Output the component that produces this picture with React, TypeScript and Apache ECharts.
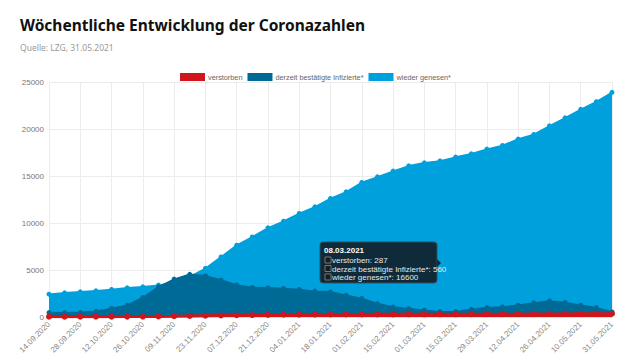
import React, { useEffect, useRef } from "react";
import * as echarts from "echarts";

const categories = [
  "14.09.2020", "21.09.2020", "28.09.2020", "05.10.2020", "12.10.2020", "19.10.2020",
  "26.10.2020", "02.11.2020", "09.11.2020", "16.11.2020", "23.11.2020", "30.11.2020",
  "07.12.2020", "14.12.2020", "21.12.2020", "28.12.2020", "04.01.2021", "11.01.2021",
  "18.01.2021", "25.01.2021", "01.02.2021", "08.02.2021", "15.02.2021", "22.02.2021",
  "01.03.2021", "08.03.2021", "15.03.2021", "22.03.2021", "29.03.2021", "05.04.2021",
  "12.04.2021", "19.04.2021", "26.04.2021", "03.05.2021", "10.05.2021", "17.05.2021",
  "31.05.2021",
];

const verstorben = [
  30, 30, 31, 32, 35, 40, 50, 65, 85, 110, 135, 160, 185, 205, 225, 240, 252, 262,
  268, 273, 277, 280, 282, 284, 286, 287, 289, 292, 296, 300, 305, 312, 320, 330,
  340, 348, 355,
];

const infizierte = [
  470, 450, 500, 610, 900, 1250, 2070, 3210, 4030, 4540, 4390, 3930, 3400, 3140,
  3100, 3030, 2930, 2750, 2680, 2320, 1970, 1430, 1070, 900, 720, 560, 560, 820,
  1000, 1070, 1250, 1500, 1710, 1540, 1250, 1000, 530,
];

const genesen = [
  2430, 2570, 2680, 2780, 2930, 3100, 3210, 3390, 3700, 4300, 5180, 6390, 7640,
  8520, 9480, 10190, 11010, 11720, 12610, 13310, 14310, 14910, 15520, 16080, 16400,
  16600, 17010, 17360, 17860, 18250, 18930, 19420, 20340, 21190, 22090, 22900, 23900,
];

const seriesNames = ["verstorben", "derzeit bestätigte Infizierte*", "wieder genesen*"];
const colors = ["#d0151b", "#006a96", "#00a0dd"];
const tooltipIndex = 25;

export default function App() {
  const ref = useRef<HTMLDivElement>(null);
  useEffect(() => {
    if (!ref.current) return;
    const chart = echarts.init(ref.current, null, { renderer: "svg" });
    const font = "Liberation Sans, Arial, sans-serif";
    const tipLines = [
      `${seriesNames[0]}: ${verstorben[tooltipIndex]}`,
      `${seriesNames[1]}: ${infizierte[tooltipIndex]}`,
      `${seriesNames[2]}: ${genesen[tooltipIndex]}`,
    ];
    const tx = 320;
    const ty = 242;
    const tipGraphics: any[] = [
      {
        type: "rect",
        x: tx,
        y: ty,
        z: 100,
        shape: { x: 0, y: 0, width: 117, height: 41, r: 3 },
        style: { fill: "#0f2b3a", stroke: "#33505f", lineWidth: 1 },
      },
      {
        type: "polygon",
        x: tx,
        y: ty,
        z: 100,
        shape: { points: [[117, 17], [121, 21], [117, 25]] },
        style: { fill: "#0f2b3a" },
      },
      {
        type: "text",
        x: tx + 4,
        y: ty + 4,
        z: 101,
        style: {
          text: categories[tooltipIndex],
          fill: "#ffffff",
          font: `bold 8px ${font}`,
        },
      },
    ];
    tipLines.forEach((t, i) => {
      tipGraphics.push({
        type: "rect",
        x: tx,
        y: ty,
        z: 101,
        shape: { x: 5, y: 15 + i * 8.5, width: 6, height: 6 },
        style: { fill: "#1c1c1c", stroke: "#8a8a8a", lineWidth: 0.8 },
      });
      tipGraphics.push({
        type: "text",
        x: tx + 12,
        y: ty + 14.5 + i * 8.5,
        z: 101,
        style: { text: t, fill: "#e6e6e6", font: `8px ${font}` },
      });
    });
    chart.setOption({
      animation: false,
      backgroundColor: "#ffffff",
      title: {
        text: "Wöchentliche Entwicklung der Coronazahlen",
        subtext: "Quelle: LZG, 31.05.2021",
        left: 15,
        top: 12,
        itemGap: 10,
        textStyle: {
          fontFamily: "Noto Sans, sans-serif",
          fontWeight: "bold",
          fontSize: 15.5,
          color: "#111111",
        },
        subtextStyle: {
          fontFamily: "Noto Sans, sans-serif",
          fontSize: 8.5,
          color: "#9a9a9a",
        },
      },
      legend: {
        data: seriesNames,
        top: 68,
        left: 175,
        itemWidth: 25,
        itemHeight: 8,
        itemGap: 5,
        icon: "rect",
        textStyle: { fontFamily: font, fontSize: 7.3, color: "#666666", padding: [0, 0, 0, -2] },
      },
      grid: { left: 49, right: 28, top: 82, bottom: 47 },
      xAxis: {
        type: "category",
        data: categories,
        boundaryGap: false,
        axisLine: { show: true, lineStyle: { color: "#dddddd" } },
        axisTick: { show: false },
        axisLabel: {
          interval: 1,
          rotate: 45,
          fontFamily: font,
          fontSize: 8,
          color: "#888888",
          margin: 6,
        },
        splitLine: { show: true, interval: 1, lineStyle: { color: "#ececec" } },
      },
      yAxis: {
        type: "value",
        min: 0,
        max: 25000,
        interval: 5000,
        axisLine: { show: false },
        axisTick: { show: false },
        axisLabel: {
          fontFamily: font,
          fontSize: 8,
          color: "#777777",
          margin: 5,
          formatter: (v: number) => String(v),
        },
        splitLine: { lineStyle: { color: "#ececec" } },
      },
      series: [
        {
          name: seriesNames[2],
          type: "line",
          data: genesen,
          color: colors[2],
          symbol: "circle",
          symbolSize: 5,
          lineStyle: { width: 1.5, color: colors[2] },
          itemStyle: { color: colors[2] },
          areaStyle: { color: colors[2], opacity: 1 },
          z: 2,
        },
        {
          name: seriesNames[1],
          type: "line",
          data: infizierte,
          color: colors[1],
          symbol: "circle",
          symbolSize: 5,
          lineStyle: { width: 1.5, color: colors[1] },
          itemStyle: { color: colors[1] },
          areaStyle: { color: colors[1], opacity: 1 },
          z: 3,
        },
        {
          name: seriesNames[0],
          type: "line",
          data: verstorben,
          color: colors[0],
          symbol: "circle",
          symbolSize: 6,
          lineStyle: { width: 3, color: colors[0] },
          itemStyle: { color: colors[0] },
          areaStyle: { color: colors[0], opacity: 1 },
          z: 4,
        },
      ],
      graphic: { elements: tipGraphics },
    });
    return () => chart.dispose();
  }, []);
  return (
    <div
      ref={ref}
      style={{ position: "fixed", left: 0, top: 0, width: 640, height: 364, background: "#fff" }}
    />
  );
}
